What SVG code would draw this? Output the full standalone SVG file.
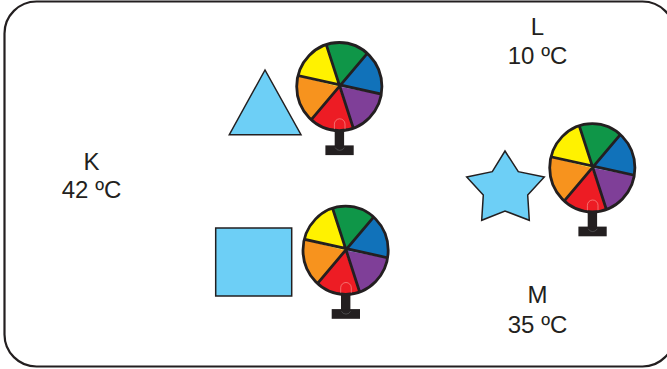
<svg xmlns="http://www.w3.org/2000/svg" width="667" height="369" viewBox="0 0 667 369">
<style>
.shape{fill:#6dcff6;stroke:#231f20;stroke-width:1.5;stroke-linejoin:miter}
.lbl{font-family:"Liberation Sans",Arial,sans-serif;font-size:24px;fill:#231f20;text-anchor:middle}
.spoke{stroke:#231f20;stroke-width:2.8;fill:none}
</style>
<defs>
<clipPath id="disc"><ellipse cx="0.6" cy="0" rx="42.6" ry="44.1"/></clipPath>
<g id="wheel">
<rect x="-4" y="40" width="9.4" height="20" fill="#231f20"/>
<rect x="-13.3" y="58.8" width="28.3" height="9.7" fill="#231f20"/>
<g clip-path="url(#disc)">
<polygon points="0,0 -16,-53 -30,-70 50,-70 36,-42" fill="#0f9648"/>
<polygon points="0,0 36,-42 70,-40 70,14 54,10" fill="#1172ba"/>
<polygon points="0,0 54,10 70,40 40,70 18,52" fill="#7f3f98"/>
<polygon points="0,0 18,52 20,70 -40,70 -35,42" fill="#ed1c24"/>
<polygon points="0,0 -35,42 -70,50 -70,-18 -54,-14" fill="#f7931e"/>
<polygon points="0,0 -54,-14 -70,-70 -20,-70 -16,-53" fill="#fff200"/>
<path class="spoke" d="M-16-53L18 52M36-42L-35 42M54 10L-54-14"/>
</g>
<ellipse cx="0.6" cy="0" rx="42.6" ry="44.1" fill="none" stroke="#231f20" stroke-width="2.8"/>
<path d="M-4.3 42.5V37.5A5.3 5.3 0 0 1 6.3 37.5V42.5" fill="none" stroke="#f6a6a0" stroke-width="0.6"/>
<path d="M-3.5 61A5 5 0 0 0 5.5 61" fill="none" stroke="#6d6e71" stroke-width="0.5"/>
</g>
</defs>
<rect id="frame" x="4.5" y="1.5" width="670" height="365" rx="32" ry="32" fill="#fff" stroke="#231f20" stroke-width="2.2"/>
<g id="connectors"/>
<g id="triangle-node"><polygon class="shape" points="265,70 229.3,134.7 301,134.7"/></g>
<g id="square-node"><rect class="shape" x="215.7" y="228" width="76" height="68"/></g>
<g id="star-node"><polygon class="shape" points="505,151 518.3,171.7 544.3,177 527.7,195 529.3,220.3 505,211 481.7,220.3 483.3,195 466.7,177 492.3,171.7"/></g>
<g id="wheel-1"><use href="#wheel" x="338.7" y="86.6"/></g>
<g id="wheel-2"><use href="#wheel" x="591.7" y="167.8"/></g>
<g id="wheel-3"><use href="#wheel" x="345" y="250.3"/></g>
<g id="label-k"><text class="lbl" x="91.5" y="170">K</text><text class="lbl" x="91.5" y="198">42 ºC</text></g>
<g id="label-l"><text class="lbl" x="537.5" y="35">L</text><text class="lbl" x="537.5" y="64">10 ºC</text></g>
<g id="label-m"><text class="lbl" x="537.5" y="303">M</text><text class="lbl" x="537.5" y="333">35 ºC</text></g>
</svg>
